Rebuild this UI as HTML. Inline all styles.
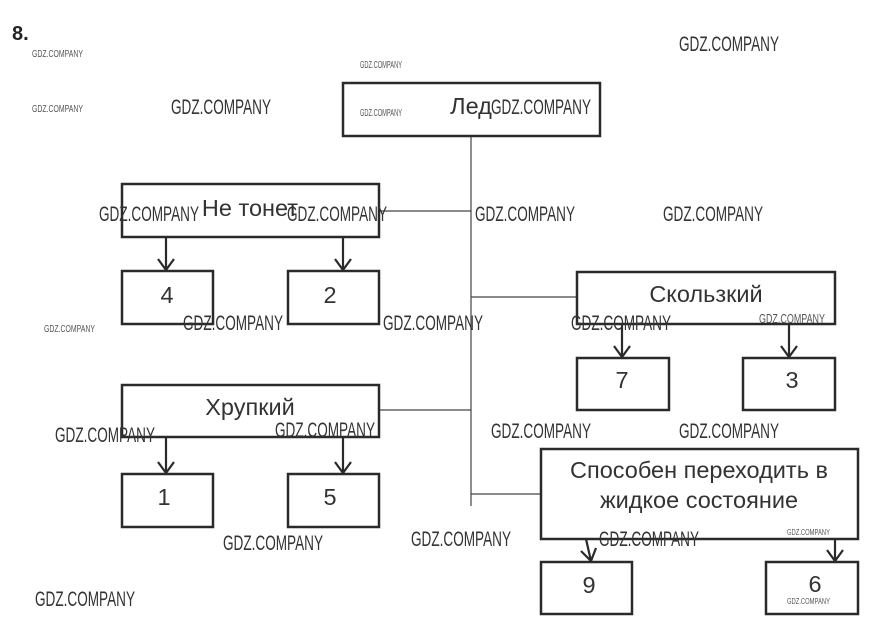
<!DOCTYPE html>
<html><head><meta charset="utf-8"><style>
html,body{margin:0;padding:0;background:#fff;width:871px;height:642px;overflow:hidden}
svg{display:block}
.b{fill:none;stroke:#2a2a2a;stroke-width:2.5}
.l{stroke:#444;stroke-width:1.2}
.t{font-family:"Liberation Sans",sans-serif;fill:#333;font-size:23.5px;text-anchor:middle}
.w{font-family:"Liberation Sans Narrow","Liberation Sans",sans-serif;fill:#333;font-size:21px}
.s{font-family:"Liberation Sans Narrow","Liberation Sans",sans-serif;fill:#555;font-size:10px}
.a{fill:none;stroke:#2a2a2a;stroke-width:2.2}
</style></head><body>
<svg width="871" height="642" viewBox="0 0 871 642">
<text x="12" y="40" font-family="Liberation Sans,sans-serif" font-weight="bold" font-size="20" fill="#222">8.</text>
<line class="l" x1="471" y1="136" x2="471" y2="506"/>
<line class="l" x1="379" y1="211" x2="471" y2="211"/>
<line class="l" x1="471" y1="297" x2="577" y2="297"/>
<line class="l" x1="379" y1="410" x2="471" y2="410"/>
<line class="l" x1="471" y1="494" x2="541" y2="494"/>
<rect class="b" x="343" y="83" width="257" height="53"/>
<rect class="b" x="122" y="184" width="257" height="53"/>
<rect class="b" x="122" y="271" width="91" height="53"/>
<rect class="b" x="288" y="271" width="91" height="53"/>
<rect class="b" x="577" y="272" width="258" height="52"/>
<rect class="b" x="577" y="358" width="92" height="52"/>
<rect class="b" x="743" y="358" width="92" height="52"/>
<rect class="b" x="122" y="385" width="257" height="52"/>
<rect class="b" x="122" y="474" width="91" height="53"/>
<rect class="b" x="288" y="474" width="91" height="53"/>
<rect class="b" x="541" y="449" width="317" height="90"/>
<rect class="b" x="541" y="562" width="91" height="52"/>
<rect class="b" x="766" y="562" width="92" height="52"/>
<g class="a">
<path d="M166 237V270M158 259L166 270L174 259"/>
<path d="M343 237V270M335 259L343 270L351 259"/>
<path d="M622 324V357M614 346L622 357L630 346"/>
<path d="M789 324V357M781 346L789 357L797 346"/>
<path d="M166 437V473M158 462L166 473L174 462"/>
<path d="M343 437V473M335 462L343 473L351 462"/>
<path d="M586 539L591 561M581 551L591 561L596 548"/>
<path d="M835 539V561M827 550L835 561L843 550"/>
</g>
<text class="t" x="471" y="114">Лед</text>
<text class="t" x="250" y="216">Не тонет</text>
<text class="t" x="167" y="303">4</text>
<text class="t" x="330" y="303">2</text>
<text class="t" x="706" y="302">Скользкий</text>
<text class="t" x="622" y="388">7</text>
<text class="t" x="792" y="388">3</text>
<text class="t" x="250" y="415">Хрупкий</text>
<text class="t" x="164" y="505">1</text>
<text class="t" x="330" y="505">5</text>
<text class="t" x="699" y="478">Способен переходить в</text>
<text class="t" x="699" y="508">жидкое состояние</text>
<text class="t" x="589" y="593">9</text>
<text class="t" x="815" y="592">6</text>
<g class="w">
<text x="679" y="51" textLength="100" lengthAdjust="spacingAndGlyphs">GDZ.COMPANY</text>
<text x="171" y="114" textLength="100" lengthAdjust="spacingAndGlyphs">GDZ.COMPANY</text>
<text x="491" y="114" textLength="100" lengthAdjust="spacingAndGlyphs">GDZ.COMPANY</text>
<text x="99" y="221" textLength="100" lengthAdjust="spacingAndGlyphs">GDZ.COMPANY</text>
<text x="287" y="221" textLength="100" lengthAdjust="spacingAndGlyphs">GDZ.COMPANY</text>
<text x="475" y="221" textLength="100" lengthAdjust="spacingAndGlyphs">GDZ.COMPANY</text>
<text x="663" y="221" textLength="100" lengthAdjust="spacingAndGlyphs">GDZ.COMPANY</text>
<text x="183" y="330" textLength="100" lengthAdjust="spacingAndGlyphs">GDZ.COMPANY</text>
<text x="383" y="330" textLength="100" lengthAdjust="spacingAndGlyphs">GDZ.COMPANY</text>
<text x="571" y="330" textLength="100" lengthAdjust="spacingAndGlyphs">GDZ.COMPANY</text>
<text x="55" y="442" textLength="100" lengthAdjust="spacingAndGlyphs">GDZ.COMPANY</text>
<text x="275" y="437" textLength="100" lengthAdjust="spacingAndGlyphs">GDZ.COMPANY</text>
<text x="491" y="438" textLength="100" lengthAdjust="spacingAndGlyphs">GDZ.COMPANY</text>
<text x="679" y="438" textLength="100" lengthAdjust="spacingAndGlyphs">GDZ.COMPANY</text>
<text x="223" y="550" textLength="100" lengthAdjust="spacingAndGlyphs">GDZ.COMPANY</text>
<text x="411" y="546" textLength="100" lengthAdjust="spacingAndGlyphs">GDZ.COMPANY</text>
<text x="599" y="546" textLength="100" lengthAdjust="spacingAndGlyphs">GDZ.COMPANY</text>
<text x="35" y="606" textLength="100" lengthAdjust="spacingAndGlyphs">GDZ.COMPANY</text>
</g>
<g class="s">
<text x="32" y="57" textLength="51" lengthAdjust="spacingAndGlyphs">GDZ.COMPANY</text>
<text x="32" y="112" textLength="51" lengthAdjust="spacingAndGlyphs">GDZ.COMPANY</text>
<text x="360" y="68" textLength="42" lengthAdjust="spacingAndGlyphs">GDZ.COMPANY</text>
<text x="360" y="116" textLength="42" lengthAdjust="spacingAndGlyphs">GDZ.COMPANY</text>
<text x="44" y="332" textLength="51" lengthAdjust="spacingAndGlyphs">GDZ.COMPANY</text>
<text x="759" y="323" font-size="13" textLength="66" lengthAdjust="spacingAndGlyphs">GDZ.COMPANY</text>
<text x="787" y="535" font-size="8" textLength="43" lengthAdjust="spacingAndGlyphs">GDZ.COMPANY</text>
<text x="787" y="604" font-size="8" textLength="43" lengthAdjust="spacingAndGlyphs">GDZ.COMPANY</text>
</g>
</svg>
</body></html>
